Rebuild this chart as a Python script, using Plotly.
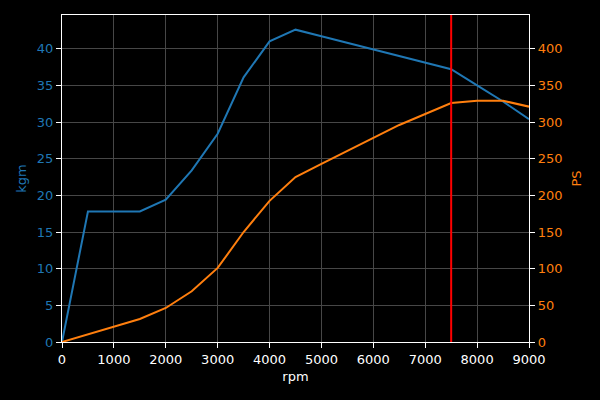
import plotly.graph_objects as go

rpm = [0, 500, 1000, 1500, 2000, 2500, 3000, 3500, 4000, 4500, 5000, 5500, 6000, 6500, 7000, 7500, 8000, 8500, 9000]
kgm = [0, 17.8, 17.8, 17.8, 19.4, 23.4, 28.4, 36.1, 41.0, 42.6, 41.7, 40.8, 39.9, 39.0, 38.1, 37.2, 35.0, 32.8, 30.4]
ps = [0, 10.7, 21.4, 31.4, 46.4, 69.2, 101, 150, 192.5, 225, 243, 261, 279, 296, 311, 326, 329, 329, 321]
redline_rpm = 7500

BLUE = "#1f77b4"
ORANGE = "#ff7f0e"
FONT = "DejaVu Sans"
GRID = "#474747"

fig = go.Figure()
fig.add_trace(go.Scatter(x=rpm, y=kgm, mode="lines", line=dict(color=BLUE, width=2), yaxis="y", showlegend=False))
fig.add_trace(go.Scatter(x=rpm, y=ps, mode="lines", line=dict(color=ORANGE, width=2), yaxis="y2", showlegend=False))

fig.add_shape(type="line", x0=redline_rpm, x1=redline_rpm, y0=0, y1=1, xref="x", yref="paper",
              line=dict(color="red", width=2))

fig.update_layout(
    width=600, height=400,
    paper_bgcolor="black", plot_bgcolor="black",
    margin=dict(l=62, r=71, t=15, b=58),
    font=dict(family=FONT, size=13, color="white"),
    xaxis=dict(range=[0, 9000], tickvals=list(range(0, 9001, 1000)),
               showline=True, linecolor="white", linewidth=1.2, mirror=True,
               ticks="outside", ticklen=5, tickcolor="white",
               showgrid=True, gridcolor=GRID, gridwidth=1,
               zeroline=False, tickfont=dict(color="white", size=13),
               title=dict(text="rpm", font=dict(color="white", size=13), standoff=6)),
    yaxis=dict(range=[0, 44.6], tickvals=list(range(0, 41, 5)),
               showline=True, linecolor="white", linewidth=1.2,
               ticks="outside", ticklen=5, tickcolor="white",
               showgrid=True, gridcolor=GRID, gridwidth=1,
               zeroline=False, tickfont=dict(color=BLUE, size=13),
               title=dict(text="kgm", font=dict(color=BLUE, size=13), standoff=7)),
    yaxis2=dict(range=[0, 446], tickvals=list(range(0, 401, 50)),
                overlaying="y", side="right", anchor="x",
                showline=True, linecolor="white", linewidth=1.2,
                ticks="outside", ticklen=5, tickcolor="white",
                showgrid=False, zeroline=False, tickfont=dict(color=ORANGE, size=13),
                title=dict(text="PS", font=dict(color=ORANGE, size=13), standoff=10)),
)

fig.write_html("out.html", config={"displayModeBar": False},
               post_script="document.body.style.margin='0';document.body.style.background='black';")
